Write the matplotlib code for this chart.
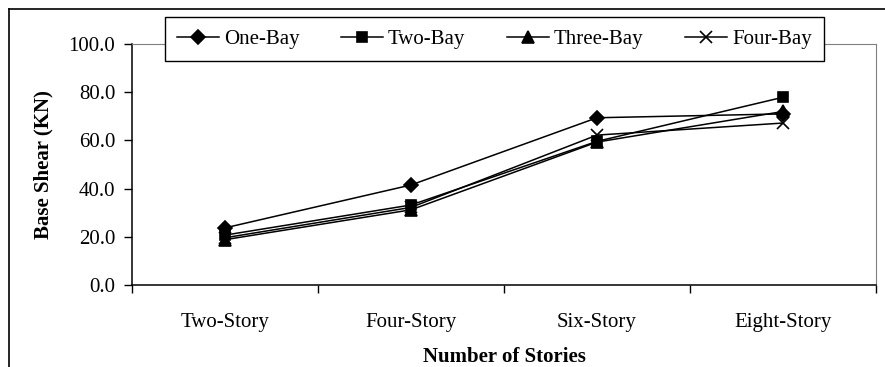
import matplotlib.pyplot as plt
from matplotlib.lines import Line2D

plt.rcParams['font.family'] = ['Liberation Serif', 'DejaVu Serif']

STORIES = ["Two-Story", "Four-Story", "Six-Story", "Eight-Story"]
ONE_BAY = [23.7, 41.5, 69.4, 71.0]
TWO_BAY = [20.7, 33.2, 59.6, 77.9]
THREE_BAY = [18.8, 31.2, 59.3, 72.0]
FOUR_BAY = [19.6, 32.2, 62.2, 67.2]

SERIES = [("One-Bay", ONE_BAY, "D", 7),
          ("Two-Bay", TWO_BAY, "s", 7),
          ("Three-Bay", THREE_BAY, "^", 9),
          ("Four-Bay", FOUR_BAY, "x", 8)]

fig = plt.figure(figsize=(8.85, 3.67), dpi=100)
ax = fig.add_axes([132 / 885, 1 - 285 / 367, (876 - 132) / 885, (285 - 44) / 367])

x = list(range(len(STORIES)))
for name, vals, mk, ms in SERIES:
    ax.plot(x, vals, color="black", lw=1.1, marker=mk, ms=ms,
            mew=1.2, label=name)

ax.set_xlim(-0.5, len(STORIES) - 0.5)
ax.set_ylim(0, 100)
ax.set_yticks(range(0, 101, 20))
ax.set_yticklabels(["%.1f" % v for v in range(0, 101, 20)])
ax.set_xticks(x)
ax.set_xticklabels(STORIES)
ax.set_xticks([i - 0.5 for i in range(len(STORIES) + 1)], minor=True)
ax.tick_params(axis="x", which="major", length=0, pad=20, labelsize=15)
ax.tick_params(axis="x", which="minor", length=6, width=1, direction="out")
ax.tick_params(axis="y", length=6, width=1, pad=6, labelsize=15)

for side in ("top", "right"):
    ax.spines[side].set_color("#808080")
for side in ("left", "bottom"):
    ax.spines[side].set_linewidth(1.1)

ax.set_xlabel("Number of Stories", fontsize=15, fontweight="bold", labelpad=11)
ax.set_ylabel("Base Shear (KN)", fontsize=15, fontweight="bold", labelpad=11)

leg = fig.legend(loc="center", ncol=4, fontsize=15,
                 bbox_to_anchor=(494.5 / 885, 1 - 39 / 367),
                 frameon=True, fancybox=False, edgecolor="black",
                 framealpha=1, handlelength=2.0, columnspacing=2.0,
                 handletextpad=0.25, borderpad=0.6)
leg.get_frame().set_linewidth(1.0)

# outer chart border
fig.add_artist(Line2D([9 / 885, 9 / 885], [0, 1 - 9 / 367],
                      transform=fig.transFigure, color="black", lw=1.2))
fig.add_artist(Line2D([9 / 885, 1], [1 - 9 / 367, 1 - 9 / 367],
                      transform=fig.transFigure, color="black", lw=1.2))

fig.savefig("out.png", dpi=100)
